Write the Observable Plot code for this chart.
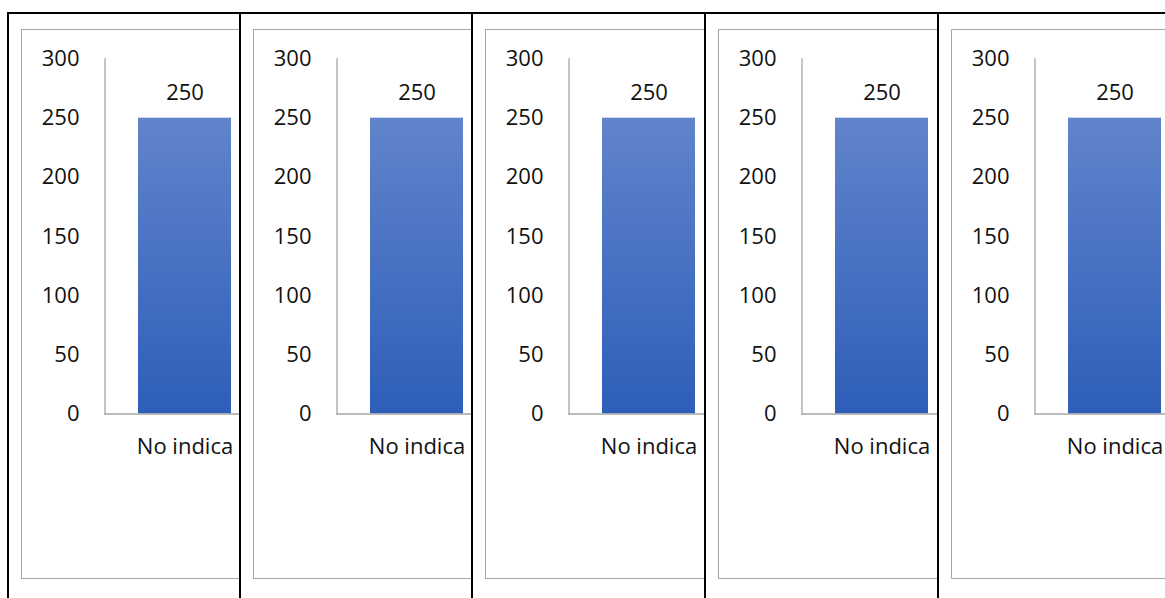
<!DOCTYPE html>
<html>
<head>
<meta charset="utf-8">
<script src="https://cdn.jsdelivr.net/npm/d3@7"></script>
<script src="https://cdn.jsdelivr.net/npm/@observablehq/plot@0.6"></script>
<style>
  html, body { margin: 0; padding: 0; background: #fff; overflow: hidden; }
  #root { position: relative; width: 1165px; height: 598px; overflow: hidden; background: #fff; }
  .panel { position: absolute; overflow: hidden; box-sizing: border-box;
           border-left: 1.5px solid #a6a6a6; border-top: 1.5px solid #a6a6a6; border-bottom: 1.5px solid #a6a6a6; }
  .panel svg { position: absolute; left: -0.75px; top: -0.75px; max-width: none !important; }
  .bline { position: absolute; background: #000; }
</style>
</head>
<body>
<div id="root">
  <svg width="0" height="0" style="position:absolute">
    <defs>
      <linearGradient id="barGrad" x1="0" y1="0" x2="0" y2="1">
        <stop offset="0" stop-color="#6184cb"/>
        <stop offset="1" stop-color="#2e5eb9"/>
      </linearGradient>
    </defs>
  </svg>
</div>
<script>
// ---- data ----
const categories = ["No indica"];
const values = [250];
const yTicks = [0, 50, 100, 150, 200, 250, 300];
const panelCount = 5;

// ---- layout ----
const blackX = [8, 240, 472, 705, 938];   // table cell borders
const rootEl = document.getElementById("root");
const rows = categories.map((c, i) => ({category: c, value: values[i]}));

for (let p = 0; p < panelCount; p++) {
  const L = blackX[p] + 14;
  const right = p + 1 < blackX.length ? blackX[p + 1] - 1 : 1170;
  const div = document.createElement("div");
  div.className = "panel";
  div.style.left = (L - 0.75) + "px";
  div.style.top = "28.75px";
  div.style.width = (right - L + 0.75) + "px";
  div.style.height = "550px";

  const chart = Plot.plot({
    width: 320,
    height: 548.5,
    marginLeft: 82.5,
    marginRight: 0,
    marginTop: 29.5,
    marginBottom: 164,
    style: {fontFamily: "'Open Sans', sans-serif", fontSize: "22px", color: "#111", background: "transparent", maxWidth: "none", width: "320px", height: "548.5px"},
    x: {type: "band", domain: categories, range: [116, 209], padding: 0},
    y: {domain: [0, 300]},
    marks: [
      Plot.barY(rows, {x: "category", y: "value", fill: "url(#barGrad)"}),
      Plot.frame({anchor: "left", stroke: "#a6a6a6", strokeWidth: 1.3}),
      Plot.ruleY([0], {stroke: "#a6a6a6", strokeWidth: 1.5}),
      Plot.axisY(yTicks, {tickSize: 0, tickPadding: 25.5, fontSize: 22, label: null}),
      Plot.axisX({tickSize: 0, tickPadding: 24.4, fontSize: 22, label: null}),
      Plot.text(rows, {x: "category", y: "value", text: d => String(d.value), dy: -25.5, fontSize: 22, fill: "#111"})
    ]
  });
  div.appendChild(chart);
  rootEl.appendChild(div);
}

// table lines
const topLine = document.createElement("div");
topLine.className = "bline";
Object.assign(topLine.style, {left: "7px", top: "12px", width: "1160px", height: "2px"});
rootEl.appendChild(topLine);
blackX.forEach(x => {
  const v = document.createElement("div");
  v.className = "bline";
  Object.assign(v.style, {left: (x - 1) + "px", top: "12px", width: "2px", height: "590px"});
  rootEl.appendChild(v);
});
</script>
</body>
</html>
